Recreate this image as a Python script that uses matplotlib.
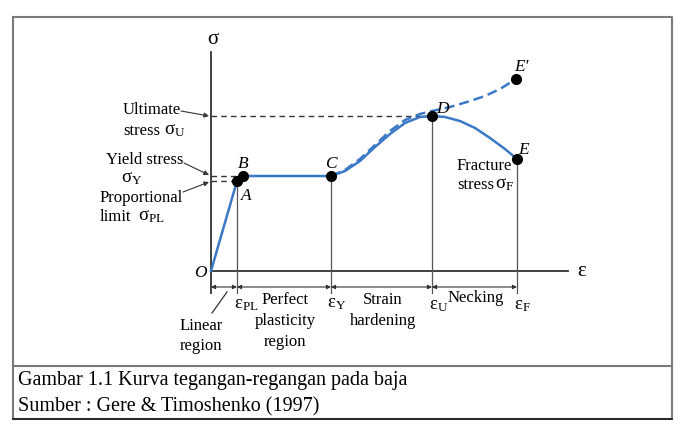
import matplotlib
matplotlib.use("Agg")
import matplotlib.pyplot as plt

# ---- data (strain / stress in drawing units, origin at O) ----
strain_curve = [0, 26, 32, 120, 134, 149, 164, 179, 194, 209, 221, 234, 249, 264, 279, 294, 306]
stress_curve = [0, 90, 95, 95, 100, 110, 124, 137, 148, 154, 155, 154, 150, 143, 133, 122, 112]
strain_dash = [120, 134, 149, 164, 179, 194, 209, 221, 239, 256, 274, 289, 305]
stress_dash = [95, 101, 112, 126, 140, 151, 157, 160, 164, 169, 175, 182, 192]
point_names = ['A', 'B', 'C', 'D', 'E', "E'"]
point_strain = [26, 32, 120, 221, 306, 305]
point_stress = [90, 95, 95, 155, 112, 192]
sigma_PL, sigma_Y, sigma_U = 90, 95, 155
eps_bounds = [0, 26, 120, 221, 306]
eps_names = [r'$\mathrm{\varepsilon_{PL}}$', r'$\mathrm{\varepsilon_Y}$',
             r'$\mathrm{\varepsilon_U}$', r'$\mathrm{\varepsilon_F}$']
caption_lines = ["Gambar 1.1 Kurva tegangan-regangan pada baja",
                 "Sumber : Gere & Timoshenko (1997)"]

plt.rcParams['font.family'] = ['Liberation Serif', 'DejaVu Serif']
plt.rcParams['mathtext.fontset'] = 'custom'
plt.rcParams['mathtext.rm'] = 'Liberation Serif'
plt.rcParams['mathtext.it'] = 'Liberation Serif:italic'

BLUE = '#3b78c6'
FS = 12
GS = 13.5  # greek symbol size

fig = plt.figure(figsize=(7, 4.35), dpi=100)
ax = fig.add_axes([0, 0, 1, 1])
ax.set_xlim(-211, 489)
ax.set_ylim(-163, 272)
ax.axis('off')

# frame
ax.plot([-198, 461, 461, -198, -198], [254, 254, -148, -148, 254], color='#7a7a7a', lw=1.5)
ax.plot([-198, 461], [-148, -148], color='#222222', lw=1.3)
ax.plot([-198, 461], [-95, -95], color='#7a7a7a', lw=1.5)

# axes
ax.plot([0, 0], [-22, 219], color='#333333', lw=1.3)
ax.plot([0, 357], [0, 0], color='#333333', lw=1.3)
ax.text(2, 232, 'σ', fontsize=15, ha='center', va='center')
ax.text(371, 1, 'ε', fontsize=15, ha='center', va='center')

# guide lines
for i in [0, 2, 3, 4]:
    ax.plot([point_strain[i], point_strain[i]], [point_stress[i], -22], color='#555555', lw=0.9)
ax.plot([0, point_strain[3]], [sigma_U, sigma_U], color='#333333', lw=1, dashes=(4, 3))
ax.plot([0, point_strain[1]], [sigma_Y, sigma_Y], color='#333333', lw=1, dashes=(4, 3))
ax.plot([0, point_strain[0]], [sigma_PL, sigma_PL], color='#333333', lw=1, dashes=(4, 3))

# curves
ax.plot(strain_dash, stress_dash, color=BLUE, lw=1.8, dashes=(4, 2))
ax.plot(strain_curve, stress_curve, color=BLUE, lw=1.8)
ax.plot(point_strain, point_stress, 'o', color='black', ms=7, zorder=5)

label_pos = [(35, 76), (32, 108), (120, 108), (231, 163), (313, 122), (310, 205)]
for name, (lx, ly) in zip(point_names, label_pos):
    ax.text(lx, ly, name, fontsize=12.5, style='italic', ha='center', va='center')
ax.text(-11, -1, 'O', fontsize=12.5, style='italic', ha='center', va='center')

# left labels
ax.text(-88, 162, 'Ultimate', fontsize=FS, ha='left', va='center')
ax.text(-88, 141, 'stress', fontsize=FS, ha='left', va='center')
ax.text(-47, 142, r'$\mathrm{\sigma_U}$', fontsize=GS, ha='left', va='center')
ax.text(-105, 112, 'Yield stress', fontsize=FS, ha='left', va='center')
ax.text(-90, 90, r'$\mathrm{\sigma_Y}$', fontsize=GS, ha='left', va='baseline')
ax.text(-111, 74, 'Proportional', fontsize=FS, ha='left', va='center')
ax.text(-111, 55, 'limit', fontsize=FS, ha='left', va='center')
ax.text(-73, 56, r'$\mathrm{\sigma_{PL}}$', fontsize=GS, ha='left', va='center')
arr = dict(arrowstyle='-|>', lw=0.8, color='#333333', mutation_scale=7, shrinkA=0, shrinkB=0)
ax.annotate('', xy=(-2, sigma_U), xytext=(-30, 160), arrowprops=arr)
ax.annotate('', xy=(-2, sigma_Y + 1), xytext=(-27, 108), arrowprops=arr)
ax.annotate('', xy=(-2, sigma_PL - 1), xytext=(-28, 79), arrowprops=arr)

ax.text(246, 106, 'Fracture', fontsize=FS, ha='left', va='center')
ax.text(246, 87, 'stress', fontsize=FS, ha='left', va='center')
ax.text(284, 88, r'$\mathrm{\sigma_F}$', fontsize=GS, ha='left', va='center')

# dimension arrows
darr = dict(arrowstyle='<|-|>', lw=0.8, color='#333333', mutation_scale=6, shrinkA=0, shrinkB=0)
for a, b in zip(eps_bounds[:-1], eps_bounds[1:]):
    ax.annotate('', xy=(b, -16), xytext=(a, -16), arrowprops=darr)
eps_label_pos = [(35, -33), (126, -32), (228, -34), (311, -34)]
for name, (lx, ly) in zip(eps_names, eps_label_pos):
    ax.text(lx, ly, name, fontsize=GS, ha='center', va='center')

ax.text(74, -28, 'Perfect', fontsize=FS, ha='center', va='center')
ax.text(74, -49, 'plasticity', fontsize=FS, ha='center', va='center')
ax.text(74, -70, 'region', fontsize=FS, ha='center', va='center')
ax.text(172, -28, 'Strain', fontsize=FS, ha='center', va='center')
ax.text(172, -49, 'hardening', fontsize=FS, ha='center', va='center')
ax.text(265, -26, 'Necking', fontsize=FS, ha='center', va='center')
ax.text(-10, -54, 'Linear', fontsize=FS, ha='center', va='center')
ax.text(-10, -74, 'region', fontsize=FS, ha='center', va='center')
ax.plot([1, 16], [-42, -21], color='#333333', lw=0.9)

# caption
ax.text(-193, -109, caption_lines[0], fontsize=14.5, ha='left', va='center')
ax.text(-193, -135, caption_lines[1], fontsize=14.5, ha='left', va='center')

fig.savefig('out.png', dpi=100)
